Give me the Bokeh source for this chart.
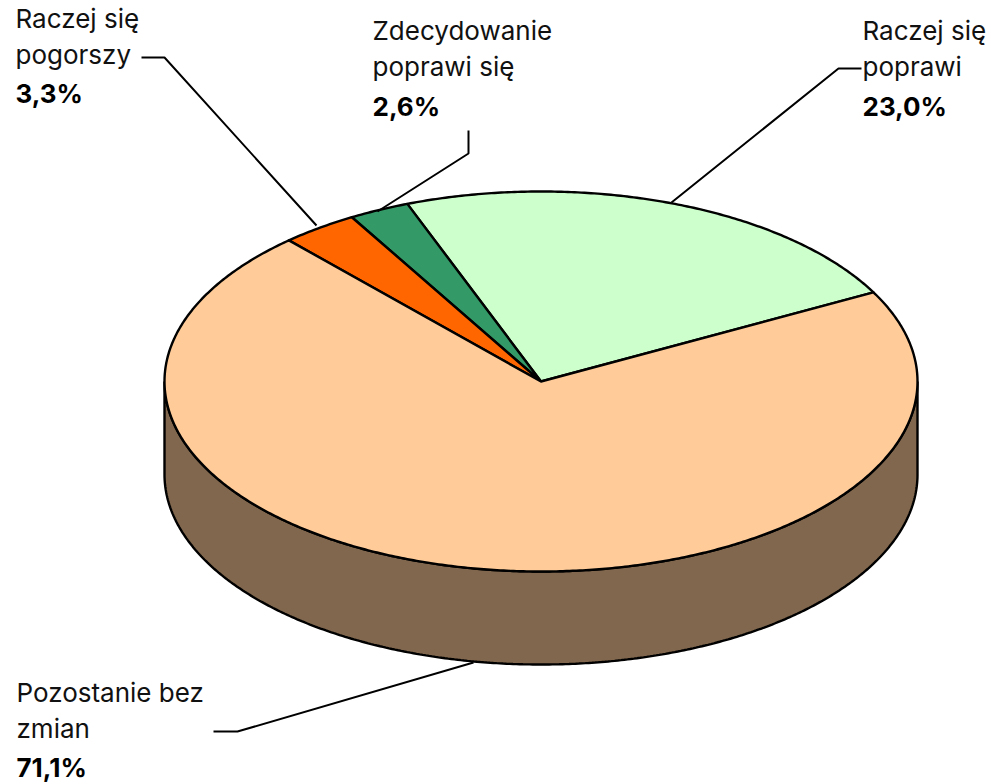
import numpy as np
from bokeh.plotting import figure
from bokeh.models import Range1d
from bokeh.core.properties import value
from bokeh.embed import file_html
from bokeh.resources import INLINE

categories = ["Raczej się poprawi", "Zdecydowanie poprawi się", "Raczej się pogorszy", "Pozostanie bez zmian"]
values = [23.0, 2.6, 3.3, 71.1]
value_labels = ["23,0%", "2,6%", "3,3%", "71,1%"]
slice_colors = ["#CCFFCC", "#339966", "#FF6600", "#FFCC99"]
side_color = "#80674D"

W, H = 991, 784
CX, CY, RX, RY, DEPTH = 540.5, 381, 376.5, 190, 93
START = 28.0
FONT = "Inter"
FS = "26px"
TEXT_SHIFT = 10

p = figure(width=W, height=H, output_backend="svg", toolbar_location=None,
           x_range=Range1d(0, W), y_range=Range1d(H, 0),
           min_border=0, outline_line_color=None)
p.axis.visible = False
p.grid.visible = False

def rim(a0, a1, dy=0):
    t = np.radians(np.linspace(a0, a1, max(int(abs(a1 - a0)) * 2, 2)))
    return CX + RX * np.cos(t), CY + dy - RY * np.sin(t)

# side wall
xt, yt = rim(180, 360)
xb, yb = rim(360, 180, DEPTH)
p.patch(np.r_[xt, xb], np.r_[yt, yb], fill_color=side_color, line_color="black", line_width=2.4)

# top slices
a = START
xs, ys = [], []
for v in values:
    b = a + v / sum(values) * 360
    x, y = rim(a, b)
    xs.append(np.r_[CX, x, CX].tolist())
    ys.append(np.r_[CY, y, CY].tolist())
    a = b
p.patches(xs, ys, fill_color=slice_colors, line_color="black", line_width=2.4, line_join="round")

# leaders
p.multi_line([[861, 838, 671], [468, 468, 377], [141, 164, 316], [213, 237, 473]],
             [[68, 68, 202], [130, 153, 211], [57, 57, 225], [731, 731, 662]],
             line_color="black", line_width=2)

# labels
name_lines = [["Raczej się", "poprawi"], ["Zdecydowanie", "poprawi się"],
              ["Raczej się", "pogorszy"], ["Pozostanie bez", "zmian"]]
anchors = [(862, 40, 76, 116), (372, 40, 76, 116), (15, 28, 64, 103), (16, 702, 738, 777)]
for lines, lab, (x, y1, y2, y3) in zip(name_lines, value_labels, anchors):
    p.text([x, x], [y1 - TEXT_SHIFT, y2 - TEXT_SHIFT], text=lines, text_font=value(FONT), text_font_size=FS,
           text_color="#111111", text_baseline="alphabetic", text_align="left")
    p.text([x], [y3 - TEXT_SHIFT], text=[lab], text_font=value(FONT), text_font_size=FS, text_font_style="bold",
           text_color="black", text_baseline="alphabetic", text_align="left")

open("out.html", "w").write(file_html(p, INLINE))
